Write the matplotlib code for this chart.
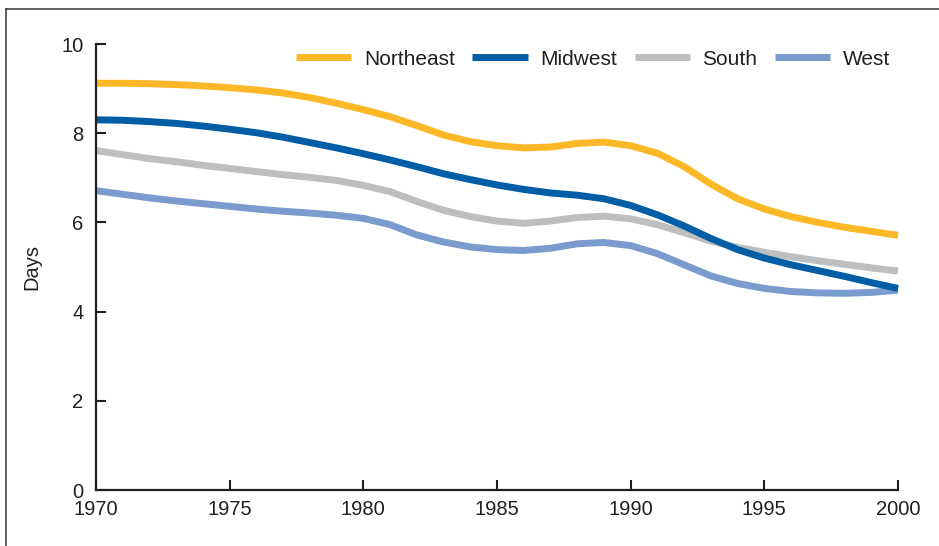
import matplotlib
matplotlib.use("Agg")
import matplotlib.pyplot as plt
from matplotlib.lines import Line2D

plt.rcParams['font.family'] = ['Liberation Sans', 'DejaVu Sans']

years = list(range(1970, 2001))
northeast = [9.12, 9.12, 9.11, 9.09, 9.06, 9.02, 8.97, 8.90, 8.80, 8.67,
             8.53, 8.37, 8.17, 7.96, 7.81, 7.72, 7.67, 7.69, 7.77, 7.80,
             7.72, 7.55, 7.25, 6.86, 6.53, 6.30, 6.13, 6.00, 5.89, 5.80, 5.71]
midwest = [8.30, 8.29, 8.26, 8.22, 8.16, 8.09, 8.01, 7.91, 7.79, 7.67,
           7.54, 7.40, 7.25, 7.09, 6.96, 6.84, 6.74, 6.66, 6.61, 6.53,
           6.38, 6.17, 5.92, 5.64, 5.39, 5.20, 5.05, 4.92, 4.79, 4.65, 4.52]
south = [7.61, 7.52, 7.43, 7.36, 7.28, 7.21, 7.14, 7.07, 7.01, 6.94,
         6.83, 6.69, 6.47, 6.27, 6.13, 6.03, 5.98, 6.03, 6.11, 6.14,
         6.08, 5.95, 5.77, 5.58, 5.44, 5.33, 5.23, 5.14, 5.06, 4.98, 4.91]
west = [6.71, 6.63, 6.55, 6.48, 6.42, 6.36, 6.30, 6.25, 6.21, 6.16,
        6.09, 5.95, 5.72, 5.56, 5.45, 5.39, 5.37, 5.42, 5.52, 5.55,
        5.48, 5.30, 5.05, 4.80, 4.63, 4.52, 4.45, 4.42, 4.41, 4.43, 4.48]

xticks = [1970, 1975, 1980, 1985, 1990, 1995, 2000]
yticks = [0, 2, 4, 6, 8, 10]

colors = {'Northeast': '#FDB827', 'Midwest': '#005DA6',
          'South': '#BDBEC0', 'West': '#7A9BCD'}

W, H = 939, 546
fig = plt.figure(figsize=(W / 100, H / 100), dpi=100)
ax = fig.add_axes([96 / W, 1 - 490 / H, (898 - 96) / W, (490 - 44) / H])

lw = 5.0
series = [('West', west), ('South', south), ('Midwest', midwest), ('Northeast', northeast)]
for name, vals in series:
    ax.plot(years, vals, color=colors[name], lw=lw, solid_capstyle='butt',
            solid_joinstyle='round', label=name, clip_on=False)

ax.set_xlim(1970, 2000)
ax.set_ylim(0, 10)
ax.set_xticks(xticks)
ax.set_yticks(yticks)
ax.set_xticklabels([str(t) for t in xticks])
ax.set_yticklabels([str(t) for t in yticks])
for s in ['top', 'right']:
    ax.spines[s].set_visible(False)
for s in ['left', 'bottom']:
    ax.spines[s].set_linewidth(1.6)
    ax.spines[s].set_color('#231F20')
ax.tick_params(axis='both', direction='in', length=7.5, width=1.5, colors='#231F20',
               labelsize=14.5, labelcolor='#231F20')
ax.tick_params(axis='y', pad=9)
ax.tick_params(axis='x', pad=7)
ax.set_ylabel('Days', fontsize=14.5, color='#231F20', labelpad=14)

order = ['Northeast', 'Midwest', 'South', 'West']
leg_handles = [Line2D([0], [0], color=colors[n], lw=lw, solid_capstyle='butt') for n in order]
leg = ax.legend(leg_handles, order, ncol=4, frameon=False, fontsize=15,
                loc='center right', bbox_to_anchor=(890 / W, 1 - 59 / H),
                bbox_transform=fig.transFigure,
                handlelength=2.65, handletextpad=0.6, columnspacing=0.85,
                borderaxespad=0, borderpad=0)
for t in leg.get_texts():
    t.set_color('#231F20')

# outer frame (left and top edges)
fx = 5.5 / W
fy = 1 - 8.5 / H
fig.add_artist(Line2D([fx, fx], [0, fy], transform=fig.transFigure, color='#444444', lw=1.2))
fig.add_artist(Line2D([fx, 1], [fy, fy], transform=fig.transFigure, color='#444444', lw=1.2))

fig.savefig('out.png', dpi=100)
